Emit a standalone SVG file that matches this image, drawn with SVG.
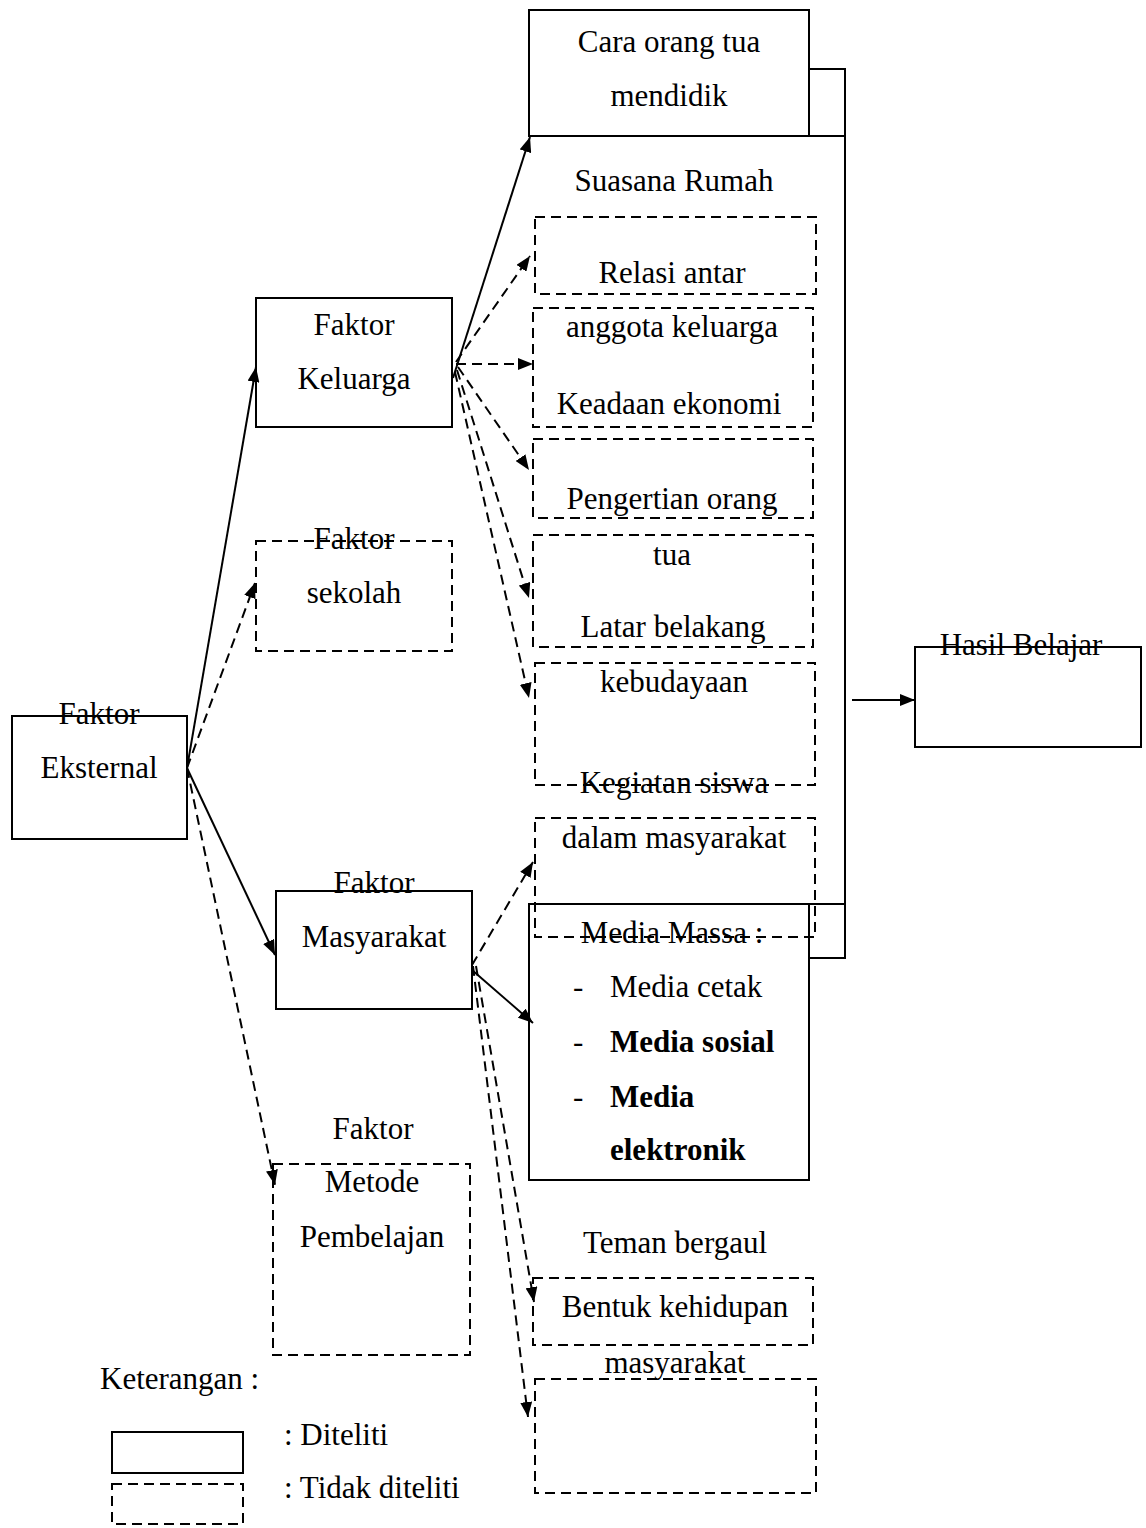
<svg xmlns="http://www.w3.org/2000/svg" width="1146" height="1528" viewBox="0 0 1146 1528">
<style>
text{font-family:"Liberation Serif","Times New Roman",serif;font-size:31px;fill:#000}
.m{text-anchor:middle}
.b{font-weight:bold}
.s{fill:#fff;stroke:#000;stroke-width:2}
.d{fill:none;stroke:#000;stroke-width:2;stroke-dasharray:10,6}
.c{fill:none;stroke:#000;stroke-width:2}
.cd{fill:none;stroke:#000;stroke-width:2;stroke-dasharray:10,6}
</style>
<defs>
<marker id="ah" markerUnits="userSpaceOnUse" markerWidth="16" markerHeight="12" refX="15" refY="6" orient="auto">
<path d="M0,0 L15,6 L0,12 z" fill="#000" stroke="none"/>
</marker>
</defs>
<rect width="1146" height="1528" fill="#fff"/>

<g id="frame">
<path class="c" d="M809,69 H845 V958 H809 M529,136 H845 M529,904 H845"/>
</g>

<g id="eksternal">
<rect class="s" x="12" y="716" width="175" height="123"/>
<text class="m" x="99" y="724">Faktor</text>
<text class="m" x="99" y="778">Eksternal</text>
</g>

<g id="keluarga">
<rect class="s" x="256" y="298" width="196" height="129"/>
<text class="m" x="354" y="335">Faktor</text>
<text class="m" x="354" y="389">Keluarga</text>
</g>

<g id="sekolah">
<rect class="d" x="256" y="541" width="196" height="110"/>
<text class="m" x="354" y="549">Faktor</text>
<text class="m" x="354" y="603">sekolah</text>
</g>

<g id="masyarakat">
<rect class="s" x="276" y="891" width="196" height="118"/>
<text class="m" x="374" y="893">Faktor</text>
<text class="m" x="374" y="947">Masyarakat</text>
</g>

<g id="metode">
<text class="m" x="373" y="1139">Faktor</text>
<rect class="d" x="273" y="1164" width="197" height="191"/>
<text class="m" x="372" y="1192">Metode</text>
<text class="m" x="372" y="1247">Pembelajan</text>
</g>

<g id="cara">
<rect class="s" x="529" y="10" width="280" height="126"/>
<text class="m" x="669" y="52">Cara orang tua</text>
<text class="m" x="669" y="106">mendidik</text>
</g>

<g id="suasana">
<text class="m" x="674" y="191">Suasana Rumah</text>
</g>

<g id="relasi">
<rect class="d" x="535" y="217" width="281" height="77"/>
<text class="m" x="672" y="283">Relasi antar</text>
</g>

<g id="ekonomi">
<rect class="d" x="533" y="308" width="280" height="119"/>
<text class="m" x="672" y="337">anggota keluarga</text>
<text class="m" x="669" y="414">Keadaan ekonomi</text>
</g>

<g id="pengertian">
<rect class="d" x="533" y="439" width="280" height="79"/>
<text class="m" x="672" y="509">Pengertian orang</text>
</g>

<g id="latar">
<rect class="d" x="533" y="535" width="280" height="112"/>
<text class="m" x="672" y="565">tua</text>
<text class="m" x="673" y="637">Latar belakang</text>
</g>

<g id="kebudayaan">
<rect class="d" x="535" y="663" width="280" height="122"/>
<text class="m" x="674" y="692">kebudayaan</text>
<text class="m" x="674" y="793">Kegiatan siswa</text>
</g>

<g id="media">
<rect class="s" x="529" y="904" width="280" height="276"/>
<text class="m" x="672" y="943">Media Massa :</text>
<text x="573" y="997">-</text>
<text x="610" y="997">Media cetak</text>
<text x="573" y="1052">-</text>
<text class="b" x="610" y="1052">Media sosial</text>
<text x="573" y="1107">-</text>
<text class="b" x="610" y="1107">Media</text>
<text class="b" x="610" y="1160">elektronik</text>
</g>

<g id="dalam">
<rect class="d" x="535" y="818" width="280" height="119"/>
<text class="m" x="674" y="848">dalam masyarakat</text>
</g>

<g id="teman">
<text class="m" x="675" y="1253">Teman bergaul</text>
</g>

<g id="bentuk">
<rect class="d" x="533" y="1278" width="280" height="67"/>
<text class="m" x="675" y="1317">Bentuk kehidupan</text>
</g>

<g id="kehidupan">
<text class="m" x="675" y="1373">masyarakat</text>
<rect class="d" x="535" y="1379" width="281" height="114"/>
</g>

<g id="hasil">
<rect class="s" x="915" y="647" width="226" height="100"/>
<text class="m" x="1021" y="655">Hasil Belajar</text>
</g>

<g id="legend">
<text x="100" y="1389">Keterangan :</text>
<rect class="s" x="112" y="1432" width="131" height="41"/>
<text x="284" y="1445">: Diteliti</text>
<rect class="d" x="112" y="1484" width="131" height="40"/>
<text x="284" y="1498">: Tidak diteliti</text>
</g>

<g id="connectors">
<line class="c" x1="187" y1="768" x2="256" y2="367" marker-end="url(#ah)"/>
<line class="cd" x1="187" y1="768" x2="255" y2="583" marker-end="url(#ah)"/>
<line class="c" x1="187" y1="768" x2="275" y2="955" marker-end="url(#ah)"/>
<line class="cd" x1="187" y1="768" x2="275" y2="1185" marker-end="url(#ah)"/>
<line class="c" x1="453" y1="378" x2="530" y2="137" marker-end="url(#ah)"/>
<line class="cd" x1="456" y1="362" x2="530" y2="256" marker-end="url(#ah)"/>
<line class="cd" x1="456" y1="364" x2="533" y2="364" marker-end="url(#ah)"/>
<line class="cd" x1="458" y1="367" x2="529" y2="470" marker-end="url(#ah)"/>
<line class="cd" x1="457" y1="370" x2="529" y2="598" marker-end="url(#ah)"/>
<line class="cd" x1="455" y1="372" x2="529" y2="698" marker-end="url(#ah)"/>
<line class="cd" x1="472" y1="965" x2="533" y2="862" marker-end="url(#ah)"/>
<line class="c" x1="472" y1="970" x2="533" y2="1023" marker-end="url(#ah)"/>
<line class="cd" x1="476" y1="966" x2="534" y2="1302" marker-end="url(#ah)"/>
<line class="cd" x1="473" y1="966" x2="528" y2="1417" marker-end="url(#ah)"/>
<line class="c" x1="852" y1="700" x2="915" y2="700" marker-end="url(#ah)"/>
</g>
</svg>
